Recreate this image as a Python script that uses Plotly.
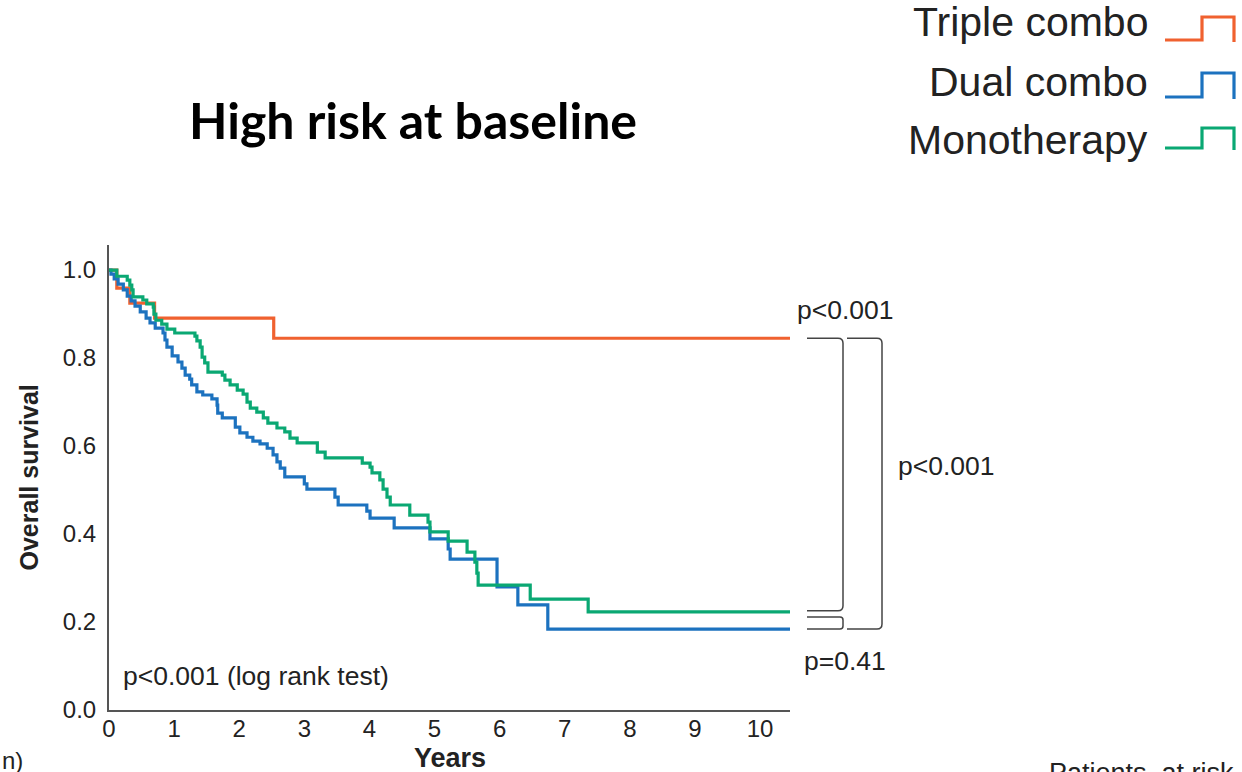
import plotly.graph_objects as go

# Kaplan-Meier step data: event times (years) and survival after each step
triple_t = [0.0, 0.12, 0.32, 0.70, 2.53]
triple_s = [1.0, 0.959, 0.925, 0.891, 0.845]

dual_t = [0.0, 0.03, 0.08, 0.14, 0.22, 0.28, 0.34, 0.40, 0.48, 0.57, 0.63, 0.71, 0.83,
          0.86, 0.89, 0.97, 1.06, 1.12, 1.17, 1.24, 1.27, 1.35, 1.44, 1.58, 1.66,
          1.67, 1.74, 1.94, 2.01, 2.12, 2.21, 2.32, 2.43, 2.52, 2.58, 2.63, 2.70,
          3.00, 3.04, 3.47, 3.52, 3.96, 4.01, 4.38, 4.93, 5.21, 5.24, 5.96, 6.28, 6.74]
dual_s = [1.0, 0.991, 0.980, 0.968, 0.955, 0.941, 0.930, 0.918, 0.905, 0.891, 0.880, 0.868, 0.857,
          0.841, 0.825, 0.805, 0.791, 0.777, 0.761, 0.752, 0.739, 0.723, 0.716, 0.707, 0.693,
          0.675, 0.664, 0.643, 0.630, 0.620, 0.611, 0.605, 0.595, 0.580, 0.564, 0.550, 0.530,
          0.514, 0.502, 0.484, 0.466, 0.452, 0.436, 0.414, 0.389, 0.366, 0.343, 0.280, 0.239, 0.184]

mono_t = [0.0, 0.12, 0.28, 0.32, 0.35, 0.37, 0.52, 0.58, 0.68, 0.69, 0.72, 0.81, 0.89,
          1.01, 1.32, 1.35, 1.40, 1.43, 1.47, 1.52, 1.74, 1.78, 1.86, 1.97, 2.06,
          2.12, 2.17, 2.27, 2.37, 2.44, 2.58, 2.70, 2.78, 2.89, 3.20, 3.32, 3.89,
          4.01, 4.04, 4.16, 4.21, 4.27, 4.32, 4.62, 4.90, 4.93, 5.21, 5.50, 5.62,
          5.65, 5.67, 6.47, 7.36]
mono_s = [1.0, 0.986, 0.977, 0.966, 0.955, 0.939, 0.932, 0.923, 0.916, 0.900, 0.886, 0.877, 0.866,
          0.857, 0.850, 0.839, 0.825, 0.802, 0.789, 0.768, 0.761, 0.750, 0.739, 0.727, 0.718,
          0.700, 0.686, 0.677, 0.664, 0.652, 0.641, 0.632, 0.618, 0.607, 0.586, 0.573, 0.561,
          0.552, 0.539, 0.523, 0.502, 0.484, 0.466, 0.443, 0.427, 0.405, 0.384, 0.359, 0.336,
          0.311, 0.284, 0.252, 0.223]

series_names = ["Triple combo", "Dual combo", "Monotherapy"]
series_colors = ["#F0612F", "#1C72BF", "#0AA873"]

x_ticks = [0, 1, 2, 3, 4, 5, 6, 7, 8, 9, 10]
y_ticks = [0.0, 0.2, 0.4, 0.6, 0.8, 1.0]

pairwise_p = ["p<0.001", "p<0.001", "p=0.41"]
logrank_note = "p<0.001 (log rank test)"

X_MAX = 10.46
Y_MAX = 1.057

W, H = 1242, 772
ML, MR, MT, MB = 109, 452, 245, 62
PW, PH = W - ML - MR, H - MT - MB

def px(x):
    return (x - ML) / PW

def py(y):
    return (H - MB - y) / PH

def sy(s):
    return s / Y_MAX

TICK_FONT = "Liberation Sans Narrow, Arial Narrow, Liberation Sans, Arial, sans-serif"
TEXT_FONT = "Liberation Sans, Arial, Helvetica, sans-serif"

fig = go.Figure()
for t, s, name, color in zip([triple_t, dual_t, mono_t], [triple_s, dual_s, mono_s],
                             series_names, series_colors):
    fig.add_trace(go.Scatter(
        x=t + [X_MAX], y=s + [s[-1]], mode="lines", name=name,
        line=dict(color=color, width=3.2, shape="hv"), showlegend=False,
    ))

shapes = []
annotations = []

# Legend: right-aligned labels with step-shaped line icons
legend_rows = [(22, 40, 17), (82, 97, 73), (140, 148, 128)]
for (ty, yb, yt), name, color in zip(legend_rows, series_names, series_colors):
    annotations.append(dict(x=px(1150), y=py(ty), xref="paper", yref="paper", text=name,
                            showarrow=False, xanchor="right", yanchor="middle",
                            font=dict(family=TEXT_FONT, size=41, color="#222")))
    path = (f"M {px(1165)},{py(yb)} L {px(1202)},{py(yb)} L {px(1202)},{py(yt)} "
            f"L {px(1234)},{py(yt)} L {px(1234)},{py(yb + 2)}")
    shapes.append(dict(type="path", xref="paper", yref="paper", path=path,
                       line=dict(color=color, width=3.2)))

# Comparison brackets to the right of the curves
def bracket(x0, xc, y_top, y_bot, r=5):
    rx, ry = r / PW, r / PH
    return (f"M {px(x0)},{y_top} L {px(xc) - rx},{y_top} Q {px(xc)},{y_top} {px(xc)},{y_top - ry} "
            f"L {px(xc)},{y_bot + ry} Q {px(xc)},{y_bot} {px(xc) - rx},{y_bot} L {px(x0)},{y_bot}")

s_tri, s_dual, s_mono = triple_s[-1], dual_s[-1], mono_s[-1]
gap = 2.5 / PH
bracket_line = dict(color="#444", width=1.5)
shapes.append(dict(type="path", xref="paper", yref="paper",
                   path=bracket(807, 843, sy(s_tri), sy(s_mono) + 0.5 * gap), line=bracket_line))
shapes.append(dict(type="path", xref="paper", yref="paper",
                   path=bracket(807, 843, sy(s_mono) - 2 * gap, sy(s_dual), r=3), line=bracket_line))
shapes.append(dict(type="path", xref="paper", yref="paper",
                   path=bracket(847, 882, sy(s_tri), sy(s_dual)), line=bracket_line))

p_font = dict(family=TEXT_FONT, size=26.5, color="#222")
annotations += [
    dict(x=px(795), y=py(310), xref="paper", yref="paper", text=pairwise_p[0],
         showarrow=False, xanchor="left", yanchor="middle", font=p_font),
    dict(x=px(896), y=py(466), xref="paper", yref="paper", text=pairwise_p[1],
         showarrow=False, xanchor="left", yanchor="middle", font=p_font),
    dict(x=px(802), y=py(661), xref="paper", yref="paper", text=pairwise_p[2],
         showarrow=False, xanchor="left", yanchor="middle", font=p_font),
    dict(x=px(121), y=py(676), xref="paper", yref="paper", text=logrank_note,
         showarrow=False, xanchor="left", yanchor="middle", font=p_font),
    # titles
    dict(x=px(413), y=py(120), xref="paper", yref="paper", text="<b>High risk at baseline</b>",
         showarrow=False, xanchor="center", yanchor="middle",
         font=dict(family="Lato, Open Sans, sans-serif", size=50, color="#000")),
    dict(x=px(28), y=0.5, xref="paper", yref="paper", text="<b>Overall survival</b>",
         showarrow=False, textangle=-90, xanchor="center", yanchor="middle",
         font=dict(family=TICK_FONT, size=25, color="#222")),
    dict(x=0.5, y=py(758), xref="paper", yref="paper", text="<b>Years</b>",
         showarrow=False, xanchor="center", yanchor="middle",
         font=dict(family=TICK_FONT, size=27, color="#222")),
    dict(x=px(0), y=py(760), xref="paper", yref="paper", text="n)",
         showarrow=False, xanchor="left", yanchor="middle",
         font=dict(family=TICK_FONT, size=24, color="#222")),
    dict(x=px(1236), y=py(756), xref="paper", yref="paper", text="Patients  at risk",
         showarrow=False, xanchor="right", yanchor="top",
         font=dict(family=TICK_FONT, size=27, color="#222")),
]

fig.update_layout(
    width=W, height=H,
    margin=dict(l=ML, r=MR, t=MT, b=MB, pad=0),
    paper_bgcolor="white", plot_bgcolor="white",
    shapes=shapes, annotations=annotations,
    xaxis=dict(range=[0, X_MAX], tickvals=x_ticks, showgrid=False, zeroline=False,
               showline=True, linecolor="#555", linewidth=2, ticks="", ticklabelstandoff=-4,
               tickfont=dict(family=TICK_FONT, size=24, color="#222")),
    yaxis=dict(range=[0, Y_MAX], tickvals=y_ticks, tickformat=".1f", showgrid=False,
               zeroline=False, showline=True, linecolor="#555", linewidth=2, ticks="",
               ticklabelstandoff=6,
               tickfont=dict(family=TICK_FONT, size=24, color="#222")),
)

fig.write_html("out.html")
